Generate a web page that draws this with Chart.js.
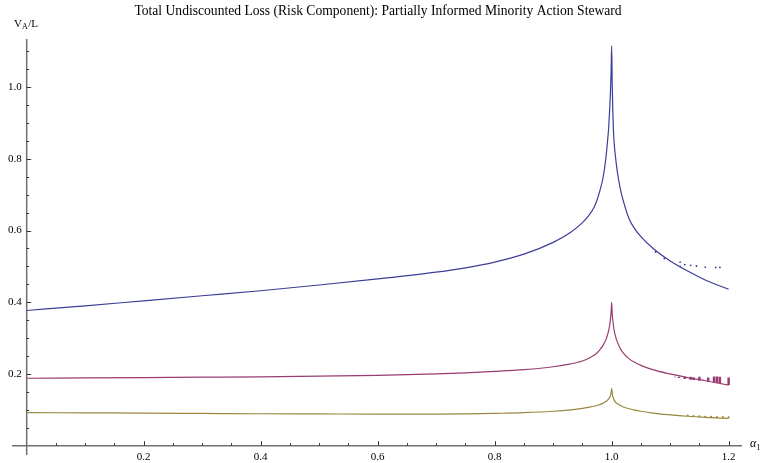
<!DOCTYPE html>
<html>
<head>
<meta charset="utf-8">
<script src="https://cdn.jsdelivr.net/npm/chart.js@4/dist/chart.umd.min.js"></script>
<style>
  html, body { margin: 0; padding: 0; background: #ffffff; }
  #wrap { width: 763px; height: 463px; }
</style>
</head>
<body>
<div id="wrap"><canvas id="c" width="763" height="463"></canvas></div>
<script>
// ---- data ----
const titleText = "Total Undiscounted Loss (Risk Component): Partially Informed Minority Action Steward";
const alpha = [0, 0.1, 0.2, 0.3, 0.4, 0.5, 0.6, 0.7, 0.75, 0.8, 0.85, 0.9, 0.93, 0.95, 0.96, 0.97, 0.975, 0.98, 0.985, 0.99, 0.993, 0.995, 0.997, 0.998, 0.999, 1.0,
               1.001, 1.002, 1.003, 1.005, 1.008, 1.01, 1.015, 1.02, 1.03, 1.04, 1.05, 1.07, 1.1, 1.13, 1.16, 1.2];
const blueVals = [0.377, 0.390, 0.404, 0.418, 0.432, 0.448, 0.465, 0.484, 0.496, 0.512, 0.534, 0.567, 0.595, 0.622, 0.640, 0.665, 0.685, 0.712, 0.745, 0.800, 0.850, 0.890, 0.950, 0.990, 1.040, 1.115,
                  1.000, 0.930, 0.880, 0.830, 0.785, 0.760, 0.715, 0.682, 0.632, 0.603, 0.583, 0.551, 0.515, 0.487, 0.462, 0.436];
const magentaVals = [0.188, 0.189, 0.190, 0.191, 0.192, 0.194, 0.196, 0.200, 0.203, 0.207, 0.212, 0.220, 0.228, 0.236, 0.243, 0.252, 0.259, 0.268, 0.279, 0.295, 0.310, 0.322, 0.340, 0.355, 0.372, 0.400,
                     0.365, 0.350, 0.335, 0.315, 0.297, 0.288, 0.270, 0.258, 0.242, 0.232, 0.224, 0.212, 0.200, 0.190, 0.181, 0.169];
const goldVals = [0.092, 0.0915, 0.091, 0.090, 0.089, 0.0885, 0.088, 0.088, 0.0885, 0.090, 0.092, 0.096, 0.100, 0.104, 0.107, 0.110, 0.112, 0.115, 0.118, 0.123, 0.127, 0.131, 0.136, 0.141, 0.147, 0.160,
                  0.145, 0.137, 0.132, 0.125, 0.119, 0.117, 0.112, 0.108, 0.103, 0.099, 0.096, 0.091, 0.086, 0.082, 0.079, 0.076];
// numerical artefacts visible near the right end
const blueNoiseX = [1.075, 1.09, 1.117, 1.117, 1.125, 1.135, 1.145, 1.16, 1.178, 1.185];
const blueNoiseY = [0.540, 0.522, 0.512, 0.500, 0.505, 0.503, 0.501, 0.498, 0.497, 0.497];
const magentaNoiseX = [1.108, 1.115, 1.125, 1.135, 1.14, 1.15, 1.165, 1.175, 1.18, 1.185, 1.2];
const magentaNoiseTop = [0.191, 0.192, 0.192, 0.192, 0.191, 0.192, 0.190, 0.193, 0.193, 0.192, 0.190];
const magentaNoiseBot = [0.192, 0.189, 0.186, 0.184, 0.183, 0.181, 0.178, 0.176, 0.175, 0.174, 0.169];
const goldNoiseX = [1.13, 1.14, 1.15, 1.16, 1.17, 1.18, 1.19, 1.2];
const goldNoiseY = [0.084, 0.083, 0.082, 0.081, 0.081, 0.080, 0.080, 0.079];
const xMajorTicks = [0.2, 0.4, 0.6, 0.8, 1.0, 1.2];
const xTickLabels = ["0.2", "0.4", "0.6", "0.8", "1.0", "1.2"];
const yMajorTicks = [0.2, 0.4, 0.6, 0.8, 1.0];
const yTickLabels = ["0.2", "0.4", "0.6", "0.8", "1.0"];
const minorStep = 0.05;

const BLUE = "#3d3d99", MAGENTA = "#993d71", GOLD = "#99873d";

function pts(xs, ys) { return xs.map((x, i) => ({ x: x, y: ys[i] })); }
function bars(xs, tops, bots) {
  const out = [];
  xs.forEach((x, i) => { out.push({ x: x, y: bots[i] }); out.push({ x: x, y: tops[i] }); out.push({ x: x, y: null }); });
  return out;
}

const axesPlugin = {
  id: "mmaAxes",
  beforeDatasetsDraw(chart) {
    const ctx = chart.ctx, xs = chart.scales.x, ys = chart.scales.y, ca = chart.chartArea;
    const x0 = xs.getPixelForValue(0), y0 = ys.getPixelForValue(0);
    ctx.save();
    ctx.strokeStyle = "#707070";
    ctx.lineWidth = 1.5;
    ctx.beginPath();
    ctx.moveTo(ca.left, y0); ctx.lineTo(ca.right, y0);
    ctx.moveTo(x0, ca.top); ctx.lineTo(x0, ca.bottom);
    ctx.stroke();
    ctx.strokeStyle = "#333333";
    ctx.lineWidth = 1;
    ctx.beginPath();
    for (let v = minorStep; v <= xs.max + 1e-9; v += minorStep) {
      const px = Math.round(xs.getPixelForValue(v)) + 0.5;
      const major = xMajorTicks.some(t => Math.abs(t - v) < 1e-6);
      const len = major ? 4.5 : 2.5;
      ctx.moveTo(px, y0); ctx.lineTo(px, y0 - len);
    }
    for (let v = minorStep; v <= ys.max + 1e-9; v += minorStep) {
      const py = Math.round(ys.getPixelForValue(v)) + 0.5;
      const major = yMajorTicks.some(t => Math.abs(t - v) < 1e-6);
      const len = major ? 4.5 : 2.5;
      ctx.moveTo(x0, py); ctx.lineTo(x0 + len, py);
    }
    ctx.stroke();
    ctx.restore();
  },
  afterDraw(chart) {
    const ctx = chart.ctx, xs = chart.scales.x, ys = chart.scales.y;
    const x0 = xs.getPixelForValue(0), y0 = ys.getPixelForValue(0);
    ctx.save();
    ctx.fillStyle = "#000000";
    ctx.font = "11px 'Liberation Serif', serif";
    ctx.textAlign = "center"; ctx.textBaseline = "middle";
    xMajorTicks.forEach((v, i) => ctx.fillText(xTickLabels[i], xs.getPixelForValue(v), y0 + 11));
    ctx.textAlign = "right";
    yMajorTicks.forEach((v, i) => ctx.fillText(yTickLabels[i], x0 - 5, ys.getPixelForValue(v)));
    // title
    ctx.textAlign = "center";
    ctx.font = "13.6px 'Liberation Serif', serif";
    ctx.fillText(titleText, 378, 11);
    // y axis label  V_A/L
    ctx.textAlign = "left";
    ctx.font = "11px 'Liberation Serif', serif";
    let lx = 14, ly = 24;
    ctx.fillText("V", lx, ly); lx += ctx.measureText("V").width;
    ctx.font = "8px 'Liberation Serif', serif";
    ctx.fillText("A", lx, ly + 3); lx += ctx.measureText("A").width + 0.5;
    ctx.font = "11px 'Liberation Serif', serif";
    ctx.fillText("/L", lx, ly);
    // x axis label  alpha_1
    ctx.font = "italic 12px 'Liberation Serif', serif";
    let ax = 750, ay = y0 - 2;
    ctx.fillText("\u03b1", ax, ay); ax += ctx.measureText("\u03b1").width;
    ctx.font = "8px 'Liberation Serif', serif";
    ctx.fillText("1", ax, ay + 4);
    ctx.restore();
  }
};

new Chart(document.getElementById("c"), {
  type: "line",
  data: {
    datasets: [
      { data: pts(alpha, blueVals), borderColor: BLUE, borderWidth: 1.2, cubicInterpolationMode: "monotone" },
      { data: pts(alpha, magentaVals), borderColor: MAGENTA, borderWidth: 1.2, cubicInterpolationMode: "monotone" },
      { data: pts(alpha, goldVals), borderColor: GOLD, borderWidth: 1.2, cubicInterpolationMode: "monotone" },
      { data: pts(blueNoiseX, blueNoiseY), borderColor: BLUE, backgroundColor: BLUE, showLine: false, pointRadius: 0.9, pointBorderWidth: 0 },
      { data: bars(magentaNoiseX, magentaNoiseTop, magentaNoiseBot), borderColor: MAGENTA, borderWidth: 2.5, spanGaps: false, tension: 0 },
      { data: pts(goldNoiseX, goldNoiseY), borderColor: GOLD, backgroundColor: GOLD, showLine: false, pointRadius: 1, pointBorderWidth: 0 }
    ]
  },
  options: {
    responsive: false,
    devicePixelRatio: 1,
    animation: false,
    events: [],
    layout: { padding: { left: 12, right: 21, top: 39, bottom: 8 } },
    elements: { point: { radius: 0 }, line: { fill: false } },
    plugins: { legend: { display: false }, tooltip: { enabled: false }, title: { display: false } },
    scales: {
      x: { type: "linear", min: -0.0251, max: 1.2228, display: false },
      y: { type: "linear", min: -0.026, max: 1.134, display: false }
    }
  },
  plugins: [axesPlugin]
});
</script>
</body>
</html>
